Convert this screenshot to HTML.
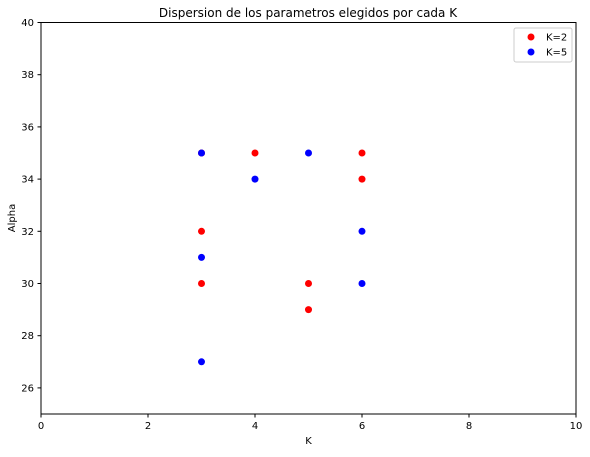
<!DOCTYPE html>
<html><head><meta charset="utf-8"><style>
body{margin:0;background:#fff;font-family:"Liberation Sans","DejaVu Sans",sans-serif;}
svg text{font-family:"DejaVu Sans","Liberation Sans",sans-serif;font-size:10px;fill:#000}
</style></head><body>
<svg id="chart" width="590" height="452">
<text x="308" y="17" text-anchor="middle" style="font-size:12px">Dispersion de los parametros elegidos por cada K</text>
<g id="axes"></g><g id="marks"></g>
<rect x="41" y="22.5" width="535" height="391.5" fill="none" stroke="#000" stroke-width="1"/>
<text x="308.5" y="444" text-anchor="middle">K</text>
<text x="15" y="218" text-anchor="middle" transform="rotate(-90 15 218)">Alpha</text>
<g>
<rect x="514" y="28" width="58" height="34" rx="2" fill="#fff" stroke="#ccc"/>
<circle cx="531" cy="37" r="3.5" fill="red"/>
<text x="546" y="40.5">K=2</text>
<circle cx="531" cy="52" r="3.5" fill="blue"/>
<text x="546" y="55.5">K=5</text>
</g>
</svg>
<script>
const xTicks=[0,2,4,6,8,10];
const yTicks=[26,28,30,32,34,36,38,40];
const k2X=[3,4,6,6,3,3,5,5];
const k2Y=[35,35,35,34,32,30,30,29];
const k5X=[3,4,5,6,3,6,3];
const k5Y=[35,34,35,32,31,30,27];
const NS="http://www.w3.org/2000/svg";
const X=v=>41+v*53.5, Y=v=>414-(v-25)*26.1;
const ax=document.getElementById('axes'), mk=document.getElementById('marks');
function mkEl(t,a,p){const e=document.createElementNS(NS,t);for(const k in a)e.setAttribute(k,a[k]);p.appendChild(e);return e;}
xTicks.forEach(t=>{
 const l=mkEl('line',{x1:X(t),x2:X(t),y1:414,y2:417.5,stroke:'#000'},ax);
 
 
 const tx=mkEl('text',{x:X(t),y:429,'text-anchor':'middle'},ax);tx.textContent=t;
 
 
});
yTicks.forEach(t=>{
 const l=mkEl('line',{x1:37.5,x2:41,y1:Y(t),y2:Y(t),stroke:'#000'},ax);
 
 
 const tx=mkEl('text',{x:34,y:Y(t)+3.5,'text-anchor':'end'},ax);tx.textContent=t;
 
 
});
k2X.forEach((x,i)=>{
 const c=mkEl('circle',{cx:X(x),cy:Y(k2Y[i]),r:3.5,fill:'red'},mk);
 
 
});
k5X.forEach((x,i)=>{
 const c=mkEl('circle',{cx:X(x),cy:Y(k5Y[i]),r:3.5,fill:'blue'},mk);
 
 
});
</script>
</body></html>
